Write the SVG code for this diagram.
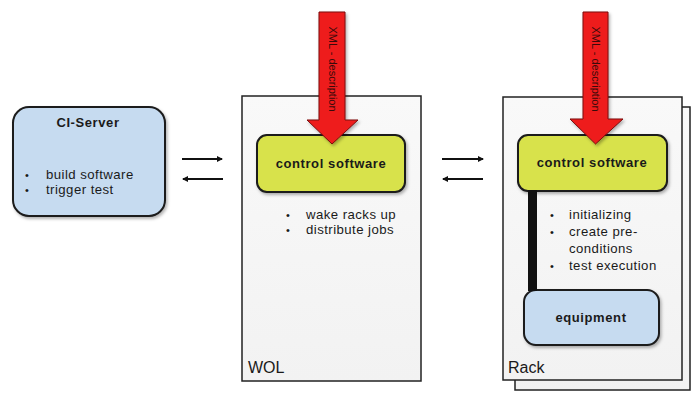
<svg xmlns="http://www.w3.org/2000/svg" width="693" height="396" viewBox="0 0 693 396">
  <defs>
    <filter id="shadow" x="-10%" y="-10%" width="130%" height="140%">
      <feDropShadow dx="1.5" dy="2" stdDeviation="1.5" flood-color="#000" flood-opacity="0.3"/>
    </filter>
    <linearGradient id="panel" x1="0" y1="0" x2="0" y2="1">
      <stop offset="0" stop-color="#f9f9f9"/>
      <stop offset="1" stop-color="#f2f2f2"/>
    </linearGradient>
    <marker id="head" viewBox="0 0 6 6" refX="5" refY="3" markerWidth="3" markerHeight="3" orient="auto-start-reverse">
      <path d="M0,0 L6,3 L0,6 z" fill="#111"/>
    </marker>
    <style>
      text { font-family: "Liberation Sans", Arial, sans-serif; fill: #1a1a1a; }
      .title { font-size: 13px; font-weight: bold; letter-spacing: 0.6px; text-anchor: middle; }
      .item { font-size: 13.2px; letter-spacing: 0.45px; }
      .dot { font-size: 11px; }
      .tag { font-size: 16px; }
      .panel { fill: url(#panel); stroke: #222; stroke-width: 1.5; }
      .yellow { fill: #d8e24c; stroke: #1a1a1a; stroke-width: 2; filter: url(#shadow); }
      .blue { fill: #c6dbf0; stroke: #1a1a1a; stroke-width: 2; filter: url(#shadow); }
      .link { stroke: #111; stroke-width: 2; fill: none; marker-end: url(#head); }
      .xml { fill: #ee1d1d; stroke: #7a0b0b; stroke-width: 1; filter: url(#shadow); }
      .xmltext { font-size: 11px; fill: #3a0a0a; text-anchor: middle; }
    </style>
  </defs>

  <!-- CI server -->
  <g id="ci-server">
    <rect class="blue" x="13" y="107" width="152" height="109" rx="16"/>
    <text class="title" x="88" y="127">CI-Server</text>
    <text class="dot" x="25" y="179">•</text>
    <text class="item" x="46" y="179">build software</text>
    <text class="dot" x="25" y="194">•</text>
    <text class="item" x="46" y="194">trigger test</text>
  </g>

  <!-- WOL panel -->
  <g id="wol">
    <rect class="panel" x="242" y="96" width="179" height="285"/>
    <text class="tag" x="248" y="373">WOL</text>
  </g>
  <g id="wol-control">
    <rect class="yellow" x="257" y="135" width="148" height="57" rx="10"/>
    <text class="title" x="331" y="168">control software</text>
    <text class="dot" x="286" y="219">•</text>
    <text class="item" x="306" y="219">wake racks up</text>
    <text class="dot" x="286" y="234">•</text>
    <text class="item" x="306" y="234">distribute jobs</text>
  </g>

  <!-- Rack panel (stacked) -->
  <g id="rack">
    <rect class="panel" x="515" y="107" width="175" height="283"/>
    <rect class="panel" x="503" y="97" width="179" height="283"/>
    <text class="tag" x="508" y="373">Rack</text>
  </g>
  <g id="rack-control">
    <rect class="yellow" x="518" y="135" width="149" height="56" rx="10"/>
    <text class="title" x="592" y="167">control software</text>
    <text class="dot" x="550" y="219">•</text>
    <text class="item" x="569" y="219">initializing</text>
    <text class="dot" x="550" y="236">•</text>
    <text class="item" x="569" y="236">create pre-</text>
    <text class="item" x="569" y="253">conditions</text>
    <text class="dot" x="550" y="270">•</text>
    <text class="item" x="569" y="270">test execution</text>
  </g>
  <g id="equipment">
    <rect class="blue" x="524" y="290" width="135" height="55" rx="12"/>
    <text class="title" x="591" y="322">equipment</text>
  </g>

  <!-- connectors -->
  <g id="connectors">
    <line class="link" x1="182" y1="159" x2="222" y2="159"/>
    <line class="link" x1="223" y1="179" x2="183" y2="179"/>
    <line class="link" x1="442" y1="159" x2="483" y2="159"/>
    <line class="link" x1="483" y1="179" x2="443" y2="179"/>
    <rect x="528" y="190" width="9" height="101" fill="#111"/>
    <polygon class="xml" points="319,12 345,12 345,120 358,120 332,144 307,120 319,120"/>
    <text class="xmltext" transform="translate(328.5,69) rotate(90)">XML - description</text>
    <polygon class="xml" points="583,12 608,12 608,119 623,119 595.5,144 570,119 583,119"/>
    <text class="xmltext" transform="translate(592,69) rotate(90)">XML - description</text>
  </g>
</svg>
